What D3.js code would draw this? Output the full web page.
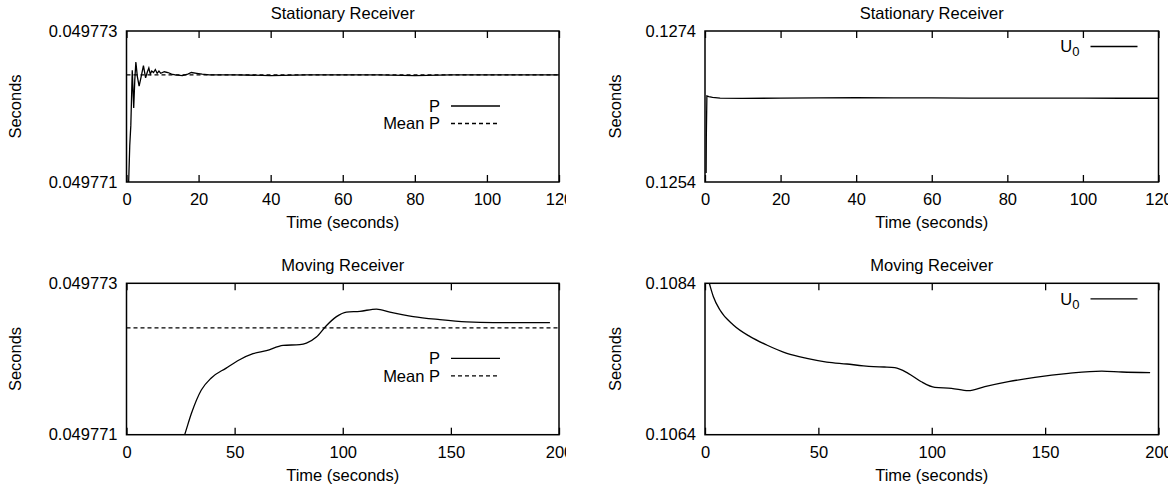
<!DOCTYPE html>
<html>
<head>
<meta charset="utf-8">
<script src="https://cdn.jsdelivr.net/npm/d3@7"></script>
<style>
  body { margin: 0; background: #fff; }
  svg { display: block; }
  text { font-family: "Liberation Sans", Arial, Helvetica, sans-serif; font-size: 16.5px; fill: #000; }
</style>
</head>
<body>
<script>
// 数据：静止接收器
let statTime = [0.3, 0.6, 0.9, 1.2, 1.6, 2.0, 2.3, 2.6, 3.0, 3.5, 4.0, 4.7, 5.3, 5.8, 6.2, 6.6, 7.0, 7.5, 8.0, 8.5, 9.0, 9.5, 10.5, 11.5, 12.5, 13.5, 15.5, 17, 18, 19.5, 21, 23, 25, 30, 40, 50, 60, 70, 80, 90, 100, 110, 120]
let statP = [0.0497690, 0.0497710, 0.04977148, 0.04977175, 0.04977248, 0.04977198, 0.04977235, 0.04977259, 0.04977240, 0.04977227,
  0.04977238, 0.04977254, 0.04977238, 0.04977246, 0.04977251, 0.04977243, 0.04977247, 0.04977245, 0.04977249, 0.04977244,
  0.04977247, 0.04977244, 0.04977246, 0.04977245, 0.04977243, 0.04977242, 0.04977241, 0.04977243, 0.04977245, 0.04977244,
  0.04977243, 0.04977242, 0.04977242, 0.04977242, 0.04977241, 0.04977242, 0.04977242, 0.04977242, 0.04977241, 0.04977242,
  0.04977242, 0.04977242, 0.04977242]
let statMeanP = 0.04977242
let statU0Time = [0.3, 0.35, 0.5, 1, 2, 4, 10, 20, 30, 40, 50, 60, 70, 80, 90, 100, 110, 120]
let statU0 = [0.12552, 0.12600, 0.12654, 0.12653, 0.12652, 0.126512, 0.126508, 0.12651, 0.126513, 0.126516,
  0.126515, 0.126513, 0.126512, 0.126512, 0.12651, 0.12651, 0.126509, 0.126509]

// 数据：移动接收器
let movTime = [20, 26.9, 30, 34.6, 39.2, 46.1, 52.3, 58.5, 64.7, 72.4, 80.1, 83.2, 87.8, 92.4, 97.1, 101.7, 107.9, 115.6, 121.8, 132.6, 144.9, 157.3, 169.6, 178.9, 195.8]
let movP = [0.0497705, 0.04977100, 0.04977128, 0.04977159, 0.04977175, 0.04977188, 0.04977199, 0.04977207, 0.04977211, 0.04977218,
  0.04977219, 0.04977221, 0.04977229, 0.04977244, 0.04977256, 0.04977262, 0.04977263, 0.04977266, 0.04977262, 0.04977256,
  0.04977252, 0.04977249, 0.04977248, 0.04977248, 0.04977248]
let movMeanP = 0.04977241
let movU0Time = [0, 1.9, 3.7, 6.6, 12.5, 19.9, 27.2, 36.1, 44.9, 53.7, 62.6, 69.9, 74.3, 79, 83.7, 89.6, 95.4, 101.4, 108.7, 116.1, 123.4, 133.8, 145.5, 160.3, 175, 183.8, 196.3]
let movU0 = [0.1086, 0.1084, 0.108223, 0.108047, 0.107849, 0.107695, 0.107585, 0.107475, 0.107409, 0.107360,
  0.107334, 0.107310, 0.107300, 0.107294, 0.107285, 0.107211, 0.107100, 0.107026, 0.107013, 0.106981,
  0.107034, 0.107100, 0.107158, 0.107211, 0.107241, 0.107228, 0.107219]

// 刻度
let xTicksStat = [0, 20, 40, 60, 80, 100, 120]
let xTicksMov = [0, 50, 100, 150, 200]
let yTicksP = [0.049771, 0.049773]
let yTicksU0Stat = [0.1254, 0.1274]
let yTicksU0Mov = [0.1064, 0.1084]

let Width = 1168
let Height = 488
let svg = d3.select('body').append('svg')
  .attr('width', Width)
  .attr('height', Height)
let defs = svg.append('defs')

// 左列裁剪（"120"/"200" 被截断）
defs.append('clipPath').attr('id', 'colClip')
  .append('rect').attr('x', 0).attr('y', 0).attr('width', 566).attr('height', Height)
let leftCol = svg.append('g').attr('clip-path', 'url(#colClip)')
let rightCol = svg.append('g')

function drawPanel(root, p) {
  let g = root.append('g')
  let x = d3.scaleLinear().domain(p.xDomain).range([p.left, p.left + p.w])
  let y = d3.scaleLinear().domain(p.yDomain).range([p.top + p.h, p.top])

  defs.append('clipPath').attr('id', 'clip-' + p.id)
    .append('rect').attr('x', p.left).attr('y', p.top).attr('width', p.w).attr('height', p.h)

  // x轴 + 镜像刻度
  let gx = g.append('g')
    .attr('transform', 'translate(0,' + (p.top + p.h) + ')')
    .call(d3.axisBottom(x).tickValues(p.xTicks).tickSizeInner(-7).tickSizeOuter(0).tickPadding(11.5))
  gx.select('.domain').remove()
  let gxt = g.append('g')
    .attr('transform', 'translate(0,' + p.top + ')')
    .call(d3.axisTop(x).tickValues(p.xTicks).tickSizeInner(-7).tickSizeOuter(0).tickFormat(''))
  gxt.select('.domain').remove()
  // y轴
  let gy = g.append('g')
    .attr('transform', 'translate(' + p.left + ',0)')
    .call(d3.axisLeft(y).tickValues(p.yTicks).tickFormat(String).tickSizeInner(0).tickSizeOuter(0).tickPadding(9))
  gy.select('.domain').remove()
  g.selectAll('.tick line').attr('stroke', '#000').attr('stroke-width', 1.3)

  // 曲线
  let plot = g.append('g').attr('clip-path', 'url(#clip-' + p.id + ')')
  p.series.forEach(s => {
    let line = d3.line()
      .x((d, i) => x(s.time[i]))
      .y(d => y(d))
      .curve(s.curve || d3.curveLinear)
    plot.append('path')
      .attr('d', line(s.values))
      .attr('fill', 'none')
      .attr('stroke', '#000')
      .attr('stroke-width', 1.3)
      .attr('stroke-dasharray', s.dash || null)
  })

  // 边框
  g.append('rect')
    .attr('x', p.left).attr('y', p.top).attr('width', p.w).attr('height', p.h)
    .attr('fill', 'none').attr('stroke', '#000').attr('stroke-width', 1.5)

  // 标题与轴标签
  g.append('text').attr('x', p.left + p.w / 2).attr('y', p.top - 12.5)
    .attr('text-anchor', 'middle').text(p.title)
  g.append('text').attr('x', p.left + p.w / 2).attr('y', p.top + p.h + 46)
    .attr('text-anchor', 'middle').text('Time (seconds)')
  g.append('text')
    .attr('transform', 'translate(' + p.ylabelX + ',' + (p.top + p.h / 2) + ') rotate(-90)')
    .attr('text-anchor', 'middle').attr('dy', '0.35em').text('Seconds')

  // 图例
  let right = p.left + p.w
  p.legend.forEach((l, i) => {
    let ly = p.top + l.dy
    let t = g.append('text').attr('x', right - l.textOff).attr('y', ly).attr('dy', '0.35em')
      .attr('text-anchor', 'end')
    if (l.sub) {
      t.append('tspan').text(l.label)
      t.append('tspan').attr('dy', 4).style('font-size', '13px').text(l.sub)
    } else {
      t.text(l.label)
    }
    g.append('line')
      .attr('x1', right - l.x1Off).attr('x2', right - l.x2Off)
      .attr('y1', ly).attr('y2', ly)
      .attr('stroke', '#000').attr('stroke-width', 1.3)
      .attr('stroke-dasharray', l.dash || null)
  })
}

let pLegend = [
  { label: 'P', dy: 75, textOff: 119, x1Off: 108, x2Off: 59 },
  { label: 'Mean P', dy: 92.5, textOff: 119, x1Off: 108, x2Off: 59, dash: '4,3' }
]
let uLegend = [
  { label: 'U', sub: '0', dy: 15.5, textOff: 79, x1Off: 68, x2Off: 21 }
]

drawPanel(leftCol, {
  id: 'tl', left: 126.5, top: 31, w: 432.5, h: 151, ylabelX: 15.7,
  xDomain: [0, 120], xTicks: xTicksStat, yDomain: [0.049771, 0.049773], yTicks: yTicksP,
  title: 'Stationary Receiver',
  series: [
    { time: statTime, values: statP },
    { time: [0, 120], values: [statMeanP, statMeanP], dash: '4,3' }
  ],
  legend: pLegend
})

drawPanel(rightCol, {
  id: 'tr', left: 705, top: 31, w: 453.5, h: 151, ylabelX: 615,
  xDomain: [0, 120], xTicks: xTicksStat, yDomain: [0.1254, 0.1274], yTicks: yTicksU0Stat,
  title: 'Stationary Receiver',
  series: [{ time: statU0Time, values: statU0 }],
  legend: uLegend
})

drawPanel(leftCol, {
  id: 'bl', left: 126.5, top: 283.3, w: 432.5, h: 151.4, ylabelX: 15.7,
  xDomain: [0, 200], xTicks: xTicksMov, yDomain: [0.049771, 0.049773], yTicks: yTicksP,
  title: 'Moving Receiver',
  series: [
    { time: movTime, values: movP, curve: d3.curveMonotoneX },
    { time: [0, 200], values: [movMeanP, movMeanP], dash: '4,3' }
  ],
  legend: pLegend
})

drawPanel(rightCol, {
  id: 'br', left: 705, top: 283.3, w: 453.5, h: 151.4, ylabelX: 615,
  xDomain: [0, 200], xTicks: xTicksMov, yDomain: [0.1064, 0.1084], yTicks: yTicksU0Mov,
  title: 'Moving Receiver',
  series: [{ time: movU0Time, values: movU0, curve: d3.curveMonotoneX }],
  legend: uLegend
})
</script>
</body>
</html>
